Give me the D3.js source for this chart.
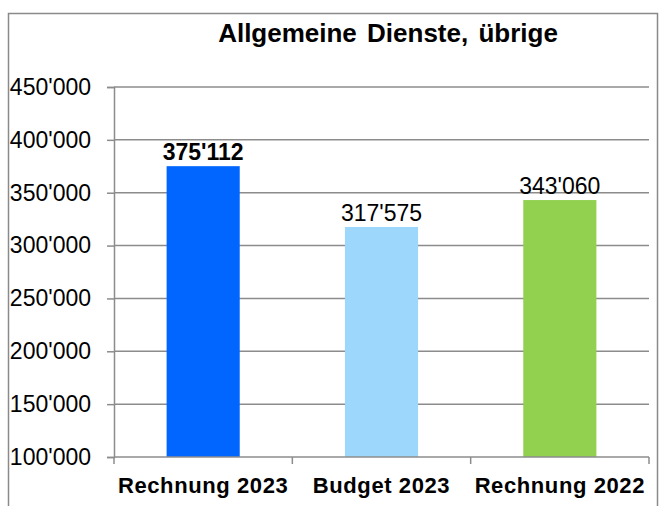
<html>
<head>
    <meta charset="utf-8">
    <title>Allgemeine Dienste, übrige</title>
    <style>
        body { margin: 0; background: #fff; }
        svg { display: block; font-family: "Liberation Sans", Arial, sans-serif; }
    </style>
</head>
<body>
<div id="my_dataviz"></div>
<script src="https://d3js.org/d3.v7.min.js"></script>
<script>

    var categories = ["Rechnung 2023", "Budget 2023", "Rechnung 2022"];
    var values = [375112, 317575, 343060];
    var barColors = ["#0066ff", "#9dd7fb", "#92d050"];
    var labelBold = [true, false, false];
    var yTicks = [100000, 150000, 200000, 250000, 300000, 350000, 400000, 450000];

    var width = 659, height = 506;
    var plot = { left: 114, right: 649, top: 87, bottom: 457 };

    var svg = d3.select("#my_dataviz")
        .append("svg")
        .attr("width", width)
        .attr("height", height);

    // outer chart frame
    svg.append("rect")
        .attr("x", 8.5)
        .attr("y", 13.5)
        .attr("width", 649)
        .attr("height", 520)
        .attr("fill", "none")
        .attr("stroke", "#8a8a8a")
        .attr("stroke-width", 1.5);

    var locale = d3.formatLocale({ decimal: ".", thousands: "'", grouping: [3], currency: ["", ""] });
    var fmt = locale.format(",");

    var x = d3.scaleBand()
        .domain(categories)
        .range([plot.left, plot.right])
        .paddingInner(0.59)
        .paddingOuter(0.295);

    var y = d3.scaleLinear()
        .domain([100000, 450000])
        .range([plot.bottom, plot.top]);

    // gridlines
    svg.append("g")
        .selectAll("line")
        .data(yTicks.slice(1))
        .enter()
        .append("line")
        .attr("x1", plot.left)
        .attr("x2", plot.right)
        .attr("y1", function (d) { return y(d); })
        .attr("y2", function (d) { return y(d); })
        .attr("stroke", "#8c8c8c")
        .attr("stroke-width", 1.5);

    // bars
    svg.append("g")
        .selectAll("rect")
        .data(values)
        .enter()
        .append("rect")
        .attr("x", function (d, i) { return x(categories[i]); })
        .attr("y", function (d) { return y(d); })
        .attr("width", x.bandwidth())
        .attr("height", function (d) { return y(100000) - y(d); })
        .attr("fill", function (d, i) { return barColors[i]; });

    // y axis
    var yAxis = svg.append("g")
        .attr("transform", "translate(" + plot.left + ",0)")
        .call(d3.axisLeft(y).tickValues(yTicks).tickFormat(fmt).tickSizeOuter(0).tickSize(7).tickPadding(16));
    yAxis.select(".domain").attr("stroke", "#8c8c8c").attr("stroke-width", 1.5);
    yAxis.selectAll(".tick line").attr("stroke", "#8c8c8c").attr("stroke-width", 1.5);
    yAxis.selectAll(".tick text")
        .attr("fill", "#000")
        .style("font-size", "23px")
        .style("font-family", "'Liberation Sans', Arial, sans-serif");

    // x axis line with ticks between categories
    var xAxis = svg.append("g");
    xAxis.append("line")
        .attr("x1", plot.left)
        .attr("x2", plot.right)
        .attr("y1", plot.bottom)
        .attr("y2", plot.bottom)
        .attr("stroke", "#8c8c8c")
        .attr("stroke-width", 1.5);
    var bounds = [plot.left].concat(categories.map(function (c) { return x(c) - x.step() * x.paddingInner() / 2 + x.step(); }));
    xAxis.selectAll(".sep")
        .data(bounds)
        .enter()
        .append("line")
        .attr("x1", function (d) { return d; })
        .attr("x2", function (d) { return d; })
        .attr("y1", plot.bottom)
        .attr("y2", plot.bottom + 7)
        .attr("stroke", "#8c8c8c")
        .attr("stroke-width", 1.5);

    xAxis.selectAll(".cat")
        .data(categories)
        .enter()
        .append("text")
        .attr("x", function (d) { return x(d) + x.bandwidth() / 2; })
        .attr("y", 493)
        .attr("text-anchor", "middle")
        .style("font-size", "22px")
        .style("font-weight", "bold")
        .style("letter-spacing", "0.6px")
        .text(function (d) { return d; });

    // value labels
    svg.append("g")
        .selectAll("text")
        .data(values)
        .enter()
        .append("text")
        .attr("x", function (d, i) { return x(categories[i]) + x.bandwidth() / 2; })
        .attr("y", function (d) { return y(d) - 6; })
        .attr("text-anchor", "middle")
        .style("font-size", "23px")
        .style("font-weight", function (d, i) { return labelBold[i] ? "bold" : "normal"; })
        .text(function (d) { return fmt(d); });

    // title
    svg.append("text")
        .attr("x", 388)
        .attr("y", 42)
        .attr("text-anchor", "middle")
        .style("font-size", "26px")
        .style("font-weight", "bold")
        .style("word-spacing", "3px")
        .text("Allgemeine Dienste, übrige");

</script>
</body>
</html>
